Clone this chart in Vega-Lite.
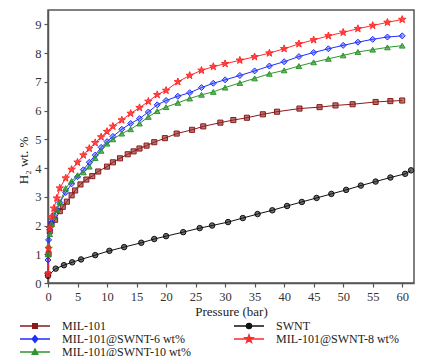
{
  "$schema": "https://vega.github.io/schema/vega-lite/v6.json",
  "autosize": {"type": "none"},
  "padding": {"left": 48, "top": 10, "right": 10, "bottom": 73},
  "width": 366,
  "height": 273,
  "background": "white",
  "config": {
    "view": {"stroke": "#555", "strokeWidth": 1.5},
    "axis": {
      "labelFont": "Liberation Serif", "labelFontSize": 12.5, "labelColor": "#333",
      "titleFont": "Liberation Serif", "titleFontSize": 13, "titleFontWeight": "normal", "titleColor": "#222",
      "domainColor": "#555", "domainWidth": 1.5, "tickColor": "#555", "tickSize": 4, "tickWidth": 1.2, "grid": false
    }
  },
  "data": {"values": [
    {"series": "MIL-101", "p": 0, "v": 0.3},
    {"series": "MIL-101", "p": 0.1, "v": 1.0},
    {"series": "MIL-101", "p": 0.3, "v": 1.8},
    {"series": "MIL-101", "p": 0.6, "v": 2.05},
    {"series": "MIL-101", "p": 1.2, "v": 2.2},
    {"series": "MIL-101", "p": 2, "v": 2.5},
    {"series": "MIL-101", "p": 2.5, "v": 2.65},
    {"series": "MIL-101", "p": 3.2, "v": 2.83},
    {"series": "MIL-101", "p": 4, "v": 3.05},
    {"series": "MIL-101", "p": 4.6, "v": 3.22},
    {"series": "MIL-101", "p": 5.5, "v": 3.43},
    {"series": "MIL-101", "p": 6.5, "v": 3.6},
    {"series": "MIL-101", "p": 7.5, "v": 3.72},
    {"series": "MIL-101", "p": 8.5, "v": 3.88},
    {"series": "MIL-101", "p": 10, "v": 4.05},
    {"series": "MIL-101", "p": 11, "v": 4.2},
    {"series": "MIL-101", "p": 12.2, "v": 4.34},
    {"series": "MIL-101", "p": 13.5, "v": 4.48},
    {"series": "MIL-101", "p": 14.5, "v": 4.58},
    {"series": "MIL-101", "p": 15.5, "v": 4.68},
    {"series": "MIL-101", "p": 16.7, "v": 4.78},
    {"series": "MIL-101", "p": 18, "v": 4.9},
    {"series": "MIL-101", "p": 19.8, "v": 5.04},
    {"series": "MIL-101", "p": 21.8, "v": 5.2},
    {"series": "MIL-101", "p": 24.4, "v": 5.33},
    {"series": "MIL-101", "p": 26.3, "v": 5.45},
    {"series": "MIL-101", "p": 29.2, "v": 5.58},
    {"series": "MIL-101", "p": 31.4, "v": 5.67},
    {"series": "MIL-101", "p": 33.7, "v": 5.75},
    {"series": "MIL-101", "p": 36.4, "v": 5.87},
    {"series": "MIL-101", "p": 38.8, "v": 5.96},
    {"series": "MIL-101", "p": 42.6, "v": 6.07},
    {"series": "MIL-101", "p": 46, "v": 6.12},
    {"series": "MIL-101", "p": 48.7, "v": 6.18},
    {"series": "MIL-101", "p": 51.6, "v": 6.22},
    {"series": "MIL-101", "p": 55.5, "v": 6.3},
    {"series": "MIL-101", "p": 58, "v": 6.33},
    {"series": "MIL-101", "p": 60, "v": 6.35},
    {"series": "SWNT", "p": 0, "v": 0.25},
    {"series": "SWNT", "p": 1.3, "v": 0.5},
    {"series": "SWNT", "p": 2.7, "v": 0.62},
    {"series": "SWNT", "p": 4.1, "v": 0.72},
    {"series": "SWNT", "p": 5.6, "v": 0.82},
    {"series": "SWNT", "p": 8, "v": 0.97},
    {"series": "SWNT", "p": 10.4, "v": 1.12},
    {"series": "SWNT", "p": 12.9, "v": 1.25},
    {"series": "SWNT", "p": 15.8, "v": 1.4},
    {"series": "SWNT", "p": 18, "v": 1.53},
    {"series": "SWNT", "p": 20, "v": 1.63},
    {"series": "SWNT", "p": 22.9, "v": 1.77},
    {"series": "SWNT", "p": 25.7, "v": 1.91},
    {"series": "SWNT", "p": 27.8, "v": 2.0},
    {"series": "SWNT", "p": 30.5, "v": 2.12},
    {"series": "SWNT", "p": 33, "v": 2.26},
    {"series": "SWNT", "p": 35.5, "v": 2.4},
    {"series": "SWNT", "p": 38, "v": 2.53},
    {"series": "SWNT", "p": 40.5, "v": 2.68},
    {"series": "SWNT", "p": 43, "v": 2.82},
    {"series": "SWNT", "p": 45.5, "v": 2.96},
    {"series": "SWNT", "p": 48, "v": 3.1},
    {"series": "SWNT", "p": 50.5, "v": 3.24},
    {"series": "SWNT", "p": 53, "v": 3.39},
    {"series": "SWNT", "p": 55.5, "v": 3.53},
    {"series": "SWNT", "p": 58, "v": 3.67},
    {"series": "SWNT", "p": 60.5, "v": 3.8},
    {"series": "SWNT", "p": 61.5, "v": 3.92},
    {"series": "MIL-101@SWNT-6 wt%", "p": 0, "v": 0.8},
    {"series": "MIL-101@SWNT-6 wt%", "p": 0.1, "v": 1.5},
    {"series": "MIL-101@SWNT-6 wt%", "p": 0.3, "v": 1.85},
    {"series": "MIL-101@SWNT-6 wt%", "p": 0.6, "v": 2.1},
    {"series": "MIL-101@SWNT-6 wt%", "p": 1, "v": 2.35},
    {"series": "MIL-101@SWNT-6 wt%", "p": 1.5, "v": 2.55},
    {"series": "MIL-101@SWNT-6 wt%", "p": 2, "v": 2.8},
    {"series": "MIL-101@SWNT-6 wt%", "p": 3, "v": 3.15},
    {"series": "MIL-101@SWNT-6 wt%", "p": 4, "v": 3.45},
    {"series": "MIL-101@SWNT-6 wt%", "p": 5, "v": 3.7},
    {"series": "MIL-101@SWNT-6 wt%", "p": 6, "v": 3.94},
    {"series": "MIL-101@SWNT-6 wt%", "p": 7, "v": 4.2},
    {"series": "MIL-101@SWNT-6 wt%", "p": 8, "v": 4.45},
    {"series": "MIL-101@SWNT-6 wt%", "p": 9, "v": 4.72},
    {"series": "MIL-101@SWNT-6 wt%", "p": 10, "v": 4.92},
    {"series": "MIL-101@SWNT-6 wt%", "p": 11, "v": 5.1},
    {"series": "MIL-101@SWNT-6 wt%", "p": 12.5, "v": 5.35},
    {"series": "MIL-101@SWNT-6 wt%", "p": 14, "v": 5.55},
    {"series": "MIL-101@SWNT-6 wt%", "p": 15.5, "v": 5.72},
    {"series": "MIL-101@SWNT-6 wt%", "p": 17, "v": 5.95},
    {"series": "MIL-101@SWNT-6 wt%", "p": 18.5, "v": 6.2},
    {"series": "MIL-101@SWNT-6 wt%", "p": 20, "v": 6.35},
    {"series": "MIL-101@SWNT-6 wt%", "p": 22, "v": 6.5},
    {"series": "MIL-101@SWNT-6 wt%", "p": 24, "v": 6.62},
    {"series": "MIL-101@SWNT-6 wt%", "p": 26, "v": 6.8},
    {"series": "MIL-101@SWNT-6 wt%", "p": 28, "v": 6.95},
    {"series": "MIL-101@SWNT-6 wt%", "p": 30, "v": 7.07},
    {"series": "MIL-101@SWNT-6 wt%", "p": 32.5, "v": 7.22},
    {"series": "MIL-101@SWNT-6 wt%", "p": 35, "v": 7.38},
    {"series": "MIL-101@SWNT-6 wt%", "p": 37.5, "v": 7.55},
    {"series": "MIL-101@SWNT-6 wt%", "p": 40, "v": 7.7},
    {"series": "MIL-101@SWNT-6 wt%", "p": 42.5, "v": 7.88},
    {"series": "MIL-101@SWNT-6 wt%", "p": 45, "v": 8.02},
    {"series": "MIL-101@SWNT-6 wt%", "p": 47.5, "v": 8.15},
    {"series": "MIL-101@SWNT-6 wt%", "p": 50, "v": 8.27},
    {"series": "MIL-101@SWNT-6 wt%", "p": 52.5, "v": 8.38},
    {"series": "MIL-101@SWNT-6 wt%", "p": 55, "v": 8.48},
    {"series": "MIL-101@SWNT-6 wt%", "p": 57.5, "v": 8.56},
    {"series": "MIL-101@SWNT-6 wt%", "p": 60, "v": 8.6},
    {"series": "MIL-101@SWNT-8 wt%", "p": 0, "v": 0.3},
    {"series": "MIL-101@SWNT-8 wt%", "p": 0.1, "v": 1.2},
    {"series": "MIL-101@SWNT-8 wt%", "p": 0.3, "v": 1.9},
    {"series": "MIL-101@SWNT-8 wt%", "p": 0.6, "v": 2.3},
    {"series": "MIL-101@SWNT-8 wt%", "p": 1, "v": 2.6},
    {"series": "MIL-101@SWNT-8 wt%", "p": 1.5, "v": 2.95},
    {"series": "MIL-101@SWNT-8 wt%", "p": 2, "v": 3.3},
    {"series": "MIL-101@SWNT-8 wt%", "p": 3, "v": 3.65},
    {"series": "MIL-101@SWNT-8 wt%", "p": 4, "v": 3.95},
    {"series": "MIL-101@SWNT-8 wt%", "p": 5, "v": 4.2},
    {"series": "MIL-101@SWNT-8 wt%", "p": 6, "v": 4.45},
    {"series": "MIL-101@SWNT-8 wt%", "p": 7, "v": 4.68},
    {"series": "MIL-101@SWNT-8 wt%", "p": 8, "v": 4.88},
    {"series": "MIL-101@SWNT-8 wt%", "p": 9, "v": 5.08},
    {"series": "MIL-101@SWNT-8 wt%", "p": 10, "v": 5.27},
    {"series": "MIL-101@SWNT-8 wt%", "p": 11, "v": 5.45},
    {"series": "MIL-101@SWNT-8 wt%", "p": 12.5, "v": 5.67},
    {"series": "MIL-101@SWNT-8 wt%", "p": 14, "v": 5.9},
    {"series": "MIL-101@SWNT-8 wt%", "p": 15.5, "v": 6.1},
    {"series": "MIL-101@SWNT-8 wt%", "p": 17, "v": 6.32},
    {"series": "MIL-101@SWNT-8 wt%", "p": 18.5, "v": 6.55},
    {"series": "MIL-101@SWNT-8 wt%", "p": 20, "v": 6.7},
    {"series": "MIL-101@SWNT-8 wt%", "p": 22, "v": 7.0},
    {"series": "MIL-101@SWNT-8 wt%", "p": 24, "v": 7.22},
    {"series": "MIL-101@SWNT-8 wt%", "p": 26, "v": 7.4},
    {"series": "MIL-101@SWNT-8 wt%", "p": 28, "v": 7.53},
    {"series": "MIL-101@SWNT-8 wt%", "p": 30, "v": 7.63},
    {"series": "MIL-101@SWNT-8 wt%", "p": 32.5, "v": 7.75},
    {"series": "MIL-101@SWNT-8 wt%", "p": 35, "v": 7.87},
    {"series": "MIL-101@SWNT-8 wt%", "p": 37.5, "v": 8.0},
    {"series": "MIL-101@SWNT-8 wt%", "p": 40, "v": 8.15},
    {"series": "MIL-101@SWNT-8 wt%", "p": 42.5, "v": 8.32},
    {"series": "MIL-101@SWNT-8 wt%", "p": 45, "v": 8.46},
    {"series": "MIL-101@SWNT-8 wt%", "p": 47.5, "v": 8.6},
    {"series": "MIL-101@SWNT-8 wt%", "p": 50, "v": 8.72},
    {"series": "MIL-101@SWNT-8 wt%", "p": 52.5, "v": 8.85},
    {"series": "MIL-101@SWNT-8 wt%", "p": 55, "v": 8.96},
    {"series": "MIL-101@SWNT-8 wt%", "p": 57.5, "v": 9.07},
    {"series": "MIL-101@SWNT-8 wt%", "p": 60, "v": 9.17},
    {"series": "MIL-101@SWNT-10 wt%", "p": 0, "v": 1.0},
    {"series": "MIL-101@SWNT-10 wt%", "p": 0.1, "v": 1.3},
    {"series": "MIL-101@SWNT-10 wt%", "p": 0.3, "v": 1.7},
    {"series": "MIL-101@SWNT-10 wt%", "p": 0.6, "v": 2.05},
    {"series": "MIL-101@SWNT-10 wt%", "p": 1, "v": 2.3},
    {"series": "MIL-101@SWNT-10 wt%", "p": 1.5, "v": 2.55},
    {"series": "MIL-101@SWNT-10 wt%", "p": 2, "v": 2.8},
    {"series": "MIL-101@SWNT-10 wt%", "p": 3, "v": 3.3},
    {"series": "MIL-101@SWNT-10 wt%", "p": 4, "v": 3.55},
    {"series": "MIL-101@SWNT-10 wt%", "p": 5, "v": 3.75},
    {"series": "MIL-101@SWNT-10 wt%", "p": 6, "v": 3.85},
    {"series": "MIL-101@SWNT-10 wt%", "p": 7, "v": 4.05},
    {"series": "MIL-101@SWNT-10 wt%", "p": 8, "v": 4.35},
    {"series": "MIL-101@SWNT-10 wt%", "p": 9, "v": 4.6},
    {"series": "MIL-101@SWNT-10 wt%", "p": 10, "v": 4.85},
    {"series": "MIL-101@SWNT-10 wt%", "p": 11, "v": 5.0},
    {"series": "MIL-101@SWNT-10 wt%", "p": 12.5, "v": 5.2},
    {"series": "MIL-101@SWNT-10 wt%", "p": 14, "v": 5.35},
    {"series": "MIL-101@SWNT-10 wt%", "p": 15.5, "v": 5.55},
    {"series": "MIL-101@SWNT-10 wt%", "p": 17, "v": 5.78},
    {"series": "MIL-101@SWNT-10 wt%", "p": 18.5, "v": 5.98},
    {"series": "MIL-101@SWNT-10 wt%", "p": 20, "v": 6.12},
    {"series": "MIL-101@SWNT-10 wt%", "p": 22, "v": 6.27},
    {"series": "MIL-101@SWNT-10 wt%", "p": 24, "v": 6.42},
    {"series": "MIL-101@SWNT-10 wt%", "p": 26, "v": 6.55},
    {"series": "MIL-101@SWNT-10 wt%", "p": 28, "v": 6.65},
    {"series": "MIL-101@SWNT-10 wt%", "p": 30, "v": 6.8},
    {"series": "MIL-101@SWNT-10 wt%", "p": 32.5, "v": 6.96},
    {"series": "MIL-101@SWNT-10 wt%", "p": 35, "v": 7.12},
    {"series": "MIL-101@SWNT-10 wt%", "p": 37.5, "v": 7.28},
    {"series": "MIL-101@SWNT-10 wt%", "p": 40, "v": 7.4},
    {"series": "MIL-101@SWNT-10 wt%", "p": 42.5, "v": 7.55},
    {"series": "MIL-101@SWNT-10 wt%", "p": 45, "v": 7.68},
    {"series": "MIL-101@SWNT-10 wt%", "p": 47.5, "v": 7.8},
    {"series": "MIL-101@SWNT-10 wt%", "p": 50, "v": 7.92},
    {"series": "MIL-101@SWNT-10 wt%", "p": 52.5, "v": 8.04},
    {"series": "MIL-101@SWNT-10 wt%", "p": 55, "v": 8.12},
    {"series": "MIL-101@SWNT-10 wt%", "p": 57.5, "v": 8.2},
    {"series": "MIL-101@SWNT-10 wt%", "p": 60, "v": 8.26}
  ]},
  "encoding": {
    "x": {"field": "p", "type": "quantitative",
      "scale": {"domain": [0, 62], "nice": false, "zero": false},
      "axis": {"title": "Pressure (bar)", "values": [0,5,10,15,20,25,30,35,40,45,50,55,60], "labelPadding": 3, "titlePadding": 3, "labelFlush": false}},
    "y": {"field": "v", "type": "quantitative",
      "scale": {"domain": [0, 9.5], "nice": false},
      "axis": {"title": "H₂ wt. %", "values": [0,1,2,3,4,5,6,7,8,9], "labelPadding": 3, "titleY": 150}},
    "stroke": {"field": "series", "type": "nominal",
      "scale": {"domain": ["MIL-101", "SWNT", "MIL-101@SWNT-6 wt%", "MIL-101@SWNT-8 wt%", "MIL-101@SWNT-10 wt%"],
                "range": ["#8b1a1a", "#111111", "#1f2fff", "#ff2a2a", "#2e962e"]},
      "legend": null}
  },
  "layer": [
    {
      "mark": {"type": "point", "opacity": 0, "filled": true},
      "encoding": {
        "color": {"field": "series", "type": "nominal",
          "scale": {"domain": ["MIL-101", "SWNT", "MIL-101@SWNT-6 wt%", "MIL-101@SWNT-8 wt%", "MIL-101@SWNT-10 wt%"],
                    "range": ["#8b1a1a", "#111111", "#1f2fff", "#ff2a2a", "#2e962e"]},
          "legend": {
            "orient": "none", "legendX": -28, "legendY": 310, "direction": "horizontal", "columns": 2,
            "title": null, "symbolSize": 100, "symbolStrokeWidth": 1.5, "symbolOpacity": 1,
            "symbolOffset": 9, "labelOffset": 21, "columnPadding": 40, "rowPadding": 0, "padding": 0,
            "labelFont": "Liberation Serif", "labelFontSize": 12, "labelColor": "#222", "labelLimit": 300
          }
        },
        "shape": {"field": "series", "type": "nominal",
          "scale": {"domain": ["MIL-101", "SWNT", "MIL-101@SWNT-6 wt%", "MIL-101@SWNT-8 wt%", "MIL-101@SWNT-10 wt%"],
                    "range": [
                      "M-3,0L3,0M-0.45,-0.45L0.45,-0.45L0.45,0.45L-0.45,0.45Z",
                      "M-3,0L3,0M-0.5,0A0.5,0.5 0 1,0 0.5,0A0.5,0.5 0 1,0 -0.5,0Z",
                      "M-3,0L3,0M0,-0.65L0.55,0L0,0.65L-0.55,0Z",
                      "M-3,0L3,0M0,-0.8L0.188,-0.259L0.761,-0.247L0.304,0.099L0.47,0.647L0,0.32L-0.47,0.647L-0.304,0.099L-0.761,-0.247L-0.188,-0.259Z",
                      "M-3,0L3,0M0,-0.6L0.55,0.45L-0.55,0.45Z"]},
          "legend": null
        }
      }
    },
    {
      "mark": {"type": "line", "strokeWidth": 1},
      "encoding": {"detail": {"field": "series", "type": "nominal"}}
    },
    {
      "transform": [{"filter": "datum.series === 'MIL-101'"}],
      "mark": {"type": "point", "shape": "square", "size": 26, "strokeWidth": 1, "filled": true, "fillOpacity": 0.6},
      "encoding": {"fill": {"field": "series", "type": "nominal", "scale": {"domain": ["MIL-101", "SWNT", "MIL-101@SWNT-6 wt%", "MIL-101@SWNT-8 wt%", "MIL-101@SWNT-10 wt%"], "range": ["#8b1a1a", "#111111", "#1f2fff", "#ff2a2a", "#2e962e"]}, "legend": null}}
    },
    {
      "transform": [{"filter": "datum.series === 'SWNT'"}],
      "mark": {"type": "point", "shape": "circle", "size": 30, "strokeWidth": 1, "filled": true, "fillOpacity": 0.6},
      "encoding": {"fill": {"field": "series", "type": "nominal", "legend": null}}
    },
    {
      "transform": [{"filter": "datum.series === 'MIL-101@SWNT-6 wt%'"}],
      "mark": {"type": "point", "shape": "diamond", "size": 36, "strokeWidth": 1, "filled": true, "fillOpacity": 0.4},
      "encoding": {"fill": {"field": "series", "type": "nominal", "legend": null}}
    },
    {
      "transform": [{"filter": "datum.series === 'MIL-101@SWNT-10 wt%'"}],
      "mark": {"type": "point", "shape": "triangle-up", "size": 32, "strokeWidth": 1, "filled": true, "fillOpacity": 0.7},
      "encoding": {"fill": {"field": "series", "type": "nominal", "legend": null}}
    },
    {
      "transform": [{"filter": "datum.series === 'MIL-101@SWNT-8 wt%'"}],
      "mark": {"type": "point", "shape": "M0,-1L0.235,-0.324L0.951,-0.309L0.380,0.124L0.588,0.809L0,0.4L-0.588,0.809L-0.380,0.124L-0.951,-0.309L-0.235,-0.324Z", "size": 60, "strokeWidth": 1, "filled": true, "fillOpacity": 0.8},
      "encoding": {"fill": {"field": "series", "type": "nominal", "legend": null}}
    }
  ]
}
